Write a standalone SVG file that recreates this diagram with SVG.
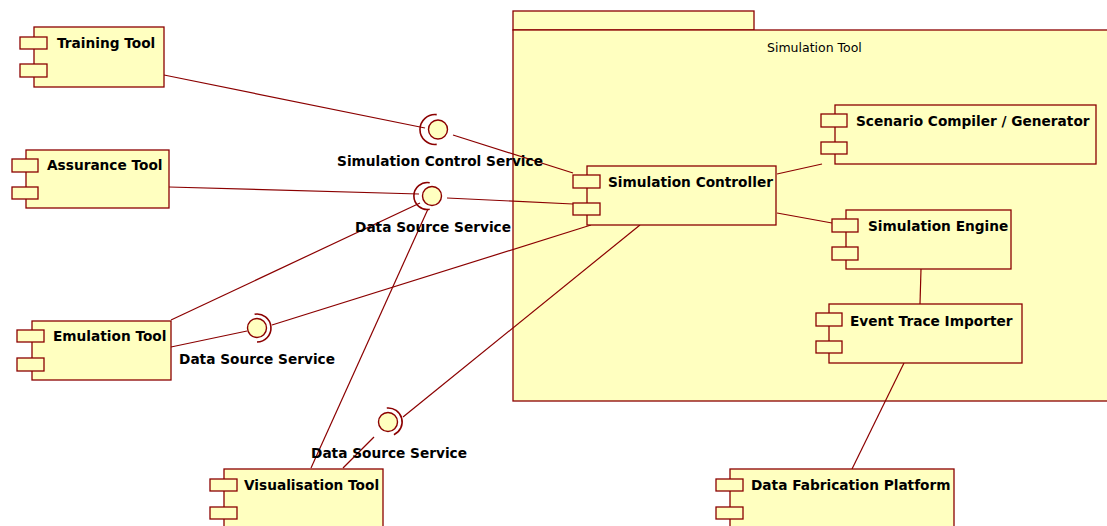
<svg xmlns="http://www.w3.org/2000/svg" width="1107" height="526" viewBox="0 0 1107 526">
<style>
.box{fill:#FFFFC0;stroke:#8B0000;stroke-width:1.3}
.port{fill:#FFFFC0;stroke:#8B0000;stroke-width:1.3}
.ln{fill:none;stroke:#8B0000;stroke-width:1.2}
.sock{fill:none;stroke:#8B0000;stroke-width:1.6}
.ball{fill:#FFFFC0;stroke:#8B0000;stroke-width:1.4}
.t{font-family:"DejaVu Sans",Verdana,sans-serif;font-weight:bold;font-size:13.7px;fill:#000}
.pk{font-family:"DejaVu Sans",Verdana,sans-serif;font-size:12.5px;fill:#000}
</style>
<rect width="1107" height="526" fill="#fff"/>
<g id="simulation-tool">
<rect class="box" x="513" y="11" width="241" height="19"/>
<rect class="box" x="513" y="30" width="600" height="371"/>
<text class="pk" x="767" y="52">Simulation Tool</text>
</g>
<g id="connectors">
<line class="ln" x1="164" y1="75" x2="425" y2="128"/>
<line class="ln" x1="453" y1="135" x2="573" y2="173"/>
<line class="ln" x1="169" y1="187" x2="419" y2="194"/>
<line class="ln" x1="171" y1="320" x2="420" y2="203"/>
<line class="ln" x1="311" y1="468" x2="428" y2="209"/>
<line class="ln" x1="447" y1="198" x2="573" y2="204"/>
<line class="ln" x1="171" y1="347" x2="247" y2="331"/>
<line class="ln" x1="272" y1="325" x2="591" y2="225"/>
<line class="ln" x1="403" y1="417" x2="640" y2="225"/>
<line class="ln" x1="374" y1="437" x2="343" y2="468"/>
<line class="ln" x1="777" y1="174" x2="822" y2="164"/>
<line class="ln" x1="777" y1="213" x2="832" y2="223"/>
<line class="ln" x1="921" y1="269" x2="920" y2="304"/>
<line class="ln" x1="904" y1="363" x2="852" y2="469"/>
</g>
<g id="if-simulation-control">
<path class="sock" d="M436.7,114.6 A15,15 0 1 0 436.7,144.4"/>
<circle class="ball" cx="438" cy="129.5" r="9.5"/>
<text class="t" x="440" y="166" text-anchor="middle">Simulation Control Service</text>
</g>
<g id="if-data-source-1">
<path class="sock" d="M429.7,182.7 A13.5,13.5 0 1 0 429.7,209.3"/>
<circle class="ball" cx="432" cy="196" r="9.5"/>
<text class="t" x="433" y="232" text-anchor="middle">Data Source Service</text>
</g>
<g id="if-data-source-2">
<path class="sock" d="M254.6,314.2 A14,14 0 1 1 257,342"/>
<circle class="ball" cx="257" cy="328" r="9.5"/>
<text class="t" x="257" y="364" text-anchor="middle">Data Source Service</text>
</g>
<g id="if-data-source-3">
<path class="sock" d="M386.8,408 A14,14 0 0 1 393.9,434.7"/>
<circle class="ball" cx="388" cy="422" r="9.5"/>
<text class="t" x="389" y="458" text-anchor="middle">Data Source Service</text>
</g>
<g id="training-tool">
<rect class="box" x="34" y="27" width="130" height="60"/>
<rect class="port" x="20" y="37" width="27" height="12"/>
<rect class="port" x="20" y="64" width="27" height="13"/>
<text class="t" x="57" y="48">Training Tool</text>
</g>
<g id="assurance-tool">
<rect class="box" x="26" y="150" width="143" height="58"/>
<rect class="port" x="12" y="159" width="26" height="13"/>
<rect class="port" x="12" y="187" width="26" height="12"/>
<text class="t" x="47" y="170">Assurance Tool</text>
</g>
<g id="emulation-tool">
<rect class="box" x="32" y="321" width="139" height="59"/>
<rect class="port" x="17" y="330" width="27" height="12"/>
<rect class="port" x="17" y="358" width="27" height="13"/>
<text class="t" x="53" y="341">Emulation Tool</text>
</g>
<g id="visualisation-tool">
<rect class="box" x="224" y="469" width="159" height="65"/>
<rect class="port" x="210" y="479" width="27" height="12"/>
<rect class="port" x="210" y="507" width="27" height="12"/>
<text class="t" x="244" y="490">Visualisation Tool</text>
</g>
<g id="simulation-controller">
<rect class="box" x="587" y="166" width="189" height="59"/>
<rect class="port" x="573" y="175" width="27" height="13"/>
<rect class="port" x="573" y="203" width="27" height="12"/>
<text class="t" x="608" y="187">Simulation Controller</text>
</g>
<g id="scenario-compiler">
<rect class="box" x="835" y="105" width="261" height="59"/>
<rect class="port" x="821" y="114" width="26" height="13"/>
<rect class="port" x="821" y="142" width="26" height="12"/>
<text class="t" x="856" y="126">Scenario Compiler / Generator</text>
</g>
<g id="simulation-engine">
<rect class="box" x="846" y="210" width="165" height="59"/>
<rect class="port" x="832" y="219" width="26" height="13"/>
<rect class="port" x="832" y="247" width="26" height="13"/>
<text class="t" x="868" y="231">Simulation Engine</text>
</g>
<g id="event-trace-importer">
<rect class="box" x="829" y="304" width="193" height="59"/>
<rect class="port" x="816" y="313" width="26" height="13"/>
<rect class="port" x="816" y="341" width="26" height="12"/>
<text class="t" x="850" y="326">Event Trace Importer</text>
</g>
<g id="data-fabrication-platform">
<rect class="box" x="730" y="469" width="224" height="65"/>
<rect class="port" x="716" y="479" width="27" height="12"/>
<rect class="port" x="716" y="507" width="27" height="12"/>
<text class="t" x="751" y="490">Data Fabrication Platform</text>
</g>
</svg>
